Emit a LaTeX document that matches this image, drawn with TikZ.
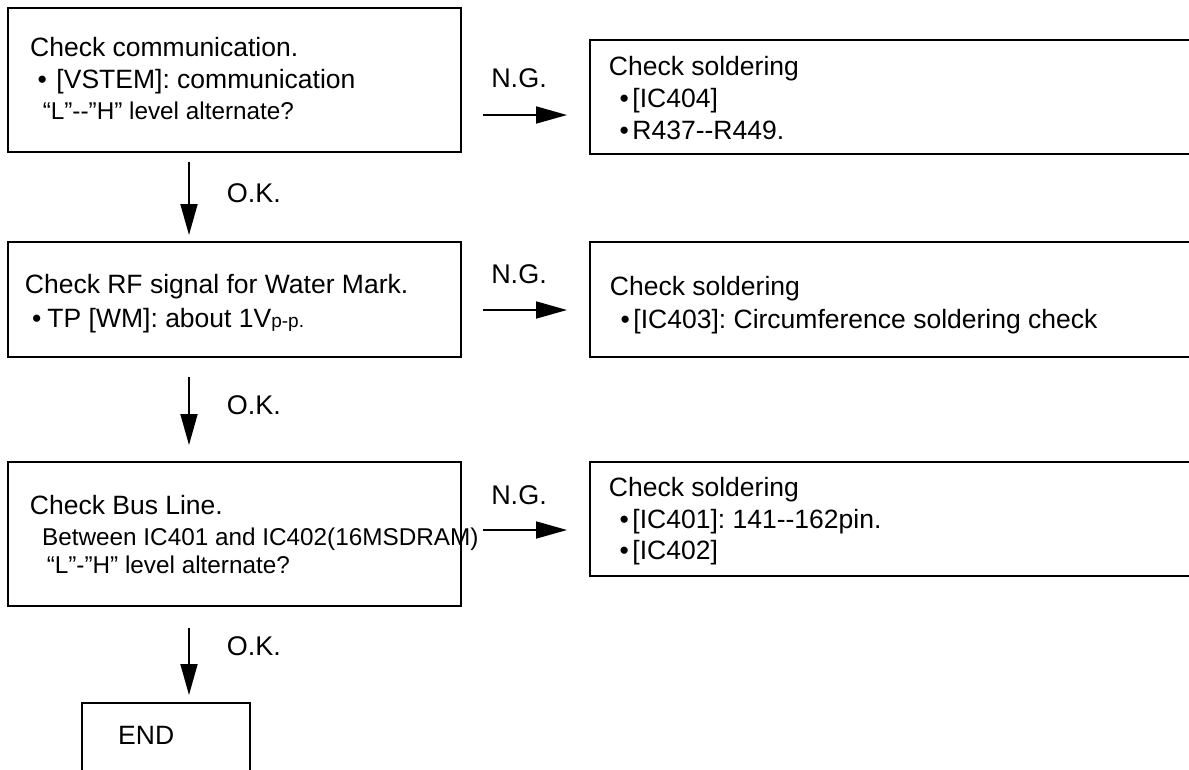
\documentclass[tikz,border=0pt]{standalone}
\usepackage{fontspec}
\setmainfont{Liberation Sans}
\usetikzlibrary{arrows.meta}
\frenchspacing
\begin{document}
\frenchspacing
\begin{tikzpicture}[x=1pt,y=-1pt,
  box/.style={draw, line width=2pt, rectangle, inner sep=0pt},
  txt/.style={anchor=base west, inner sep=0pt, font=\fontsize{26.5}{31}\selectfont},
  sml/.style={anchor=base west, inner sep=0pt, font=\fontsize{24.3}{29}\selectfont},
  lbl/.style={inner sep=0pt, font=\fontsize{27}{32}\selectfont},
  arr/.style={line width=1.8pt, -{Triangle[length=31pt,width=17pt]}}
]
\clip (0,0) rectangle (1189,769);
% left column boxes
\node[box, minimum width=453pt, minimum height=144pt] (b1) at (234.5,80) {};
\node[box, minimum width=453pt, minimum height=115pt] (b2) at (234.5,299.5) {};
\node[box, minimum width=453pt, minimum height=144pt] (b3) at (234.5,534) {};
\node[box, minimum width=168pt, minimum height=100pt] (bend) at (166,753) {};
% right column boxes
\node[box, minimum width=660pt, minimum height=114pt] (n1) at (920,97) {};
\node[box, minimum width=660pt, minimum height=115pt] (n2) at (920,299.5) {};
\node[box, minimum width=660pt, minimum height=114pt] (n3) at (920,519) {};

% texts box 1
\node[txt] (t1a) at (30,56.5) {Check communication.};
\node[txt] (t1b) at (37.3,88) {\textbullet\hspace*{9.7pt}[VSTEM]: communication};
\node[sml] (t1c) at (42.6,119) {“L”-{}-”H” level alternate?};
% texts box 2
\node[txt] (t2a) at (24.7,293.5) {Check RF signal for Water Mark.};
\node[txt] (t2b) at (32,327.5) {\textbullet\hspace*{6pt}TP [WM]: about 1V{\fontsize{19}{22}\selectfont p-p.}};
% texts box 3
\node[txt] (t3a) at (29.7,514) {Check Bus Line.};
\node[sml] (t3b) at (42,545.5) {Between IC401 and IC402(16MSDRAM)};
\node[sml] (t3c) at (46.6,573.5) {“L”-”H” level alternate?};
% END
\node[txt] (tend) at (118,744.5) {END};
% right texts
\node[txt] (u1a) at (608.7,75.5) {Check soldering};
\node[txt] (u1b) at (619.5,107.5) {\textbullet\hspace*{3.5pt}[IC404]};
\node[txt] (u1c) at (619.5,139.5) {\textbullet\hspace*{3.5pt}R437-{}-R449.};
\node[txt] (u2a) at (609.7,295.5) {Check soldering};
\node[txt] (u2b) at (620.5,328.5) {\textbullet\hspace*{3.5pt}[IC403]: Circumference soldering check};
\node[txt] (u3a) at (608.7,496.5) {Check soldering};
\node[txt] (u3b) at (619.5,528.5) {\textbullet\hspace*{3.5pt}[IC401]: 141-{}-162pin.};
\node[txt] (u3c) at (619.5,559.5) {\textbullet\hspace*{3.5pt}[IC402]};

% O.K. arrows
\draw[arr, shorten <=9pt, shorten >=6pt] ([xshift=-45.5pt]b1.south) -- ([xshift=-45.5pt]b2.north);
\draw[arr, shorten <=19pt, shorten >=16pt] ([xshift=-45.5pt]b2.south) -- ([xshift=-45.5pt]b3.north);
\draw[arr, shorten <=21pt, shorten >=7pt] ([xshift=-45.5pt]b3.south) -- ([xshift=23pt]bend.north);
\node[lbl, anchor=base west] (ok1) at (226.7,202.5) {O.K.};
\node[lbl, anchor=base west] (ok2) at (226.7,414.5) {O.K.};
\node[lbl, anchor=base west] (ok3) at (226.7,655.5) {O.K.};

% N.G. arrows
\coordinate (g1) at ([yshift=-35pt]b1.east);
\coordinate (g2) at ([yshift=-10.5pt]b2.east);
\coordinate (g3) at ([yshift=4pt]b3.east);
\draw[arr, shorten <=21pt, shorten >=22pt] (g1) -- (g1 -| n1.west);
\draw[arr, shorten <=21pt, shorten >=22pt] (g2) -- (g2 -| n2.west);
\draw[arr, shorten <=21pt, shorten >=22pt] (g3) -- (g3 -| n3.west);
\node[lbl, anchor=base] (ng1) at (519,87.5) {N.G.};
\node[lbl, anchor=base] (ng2) at (519,283.5) {N.G.};
\node[lbl, anchor=base] (ng3) at (519,504.5) {N.G.};
\end{tikzpicture}
\end{document}
